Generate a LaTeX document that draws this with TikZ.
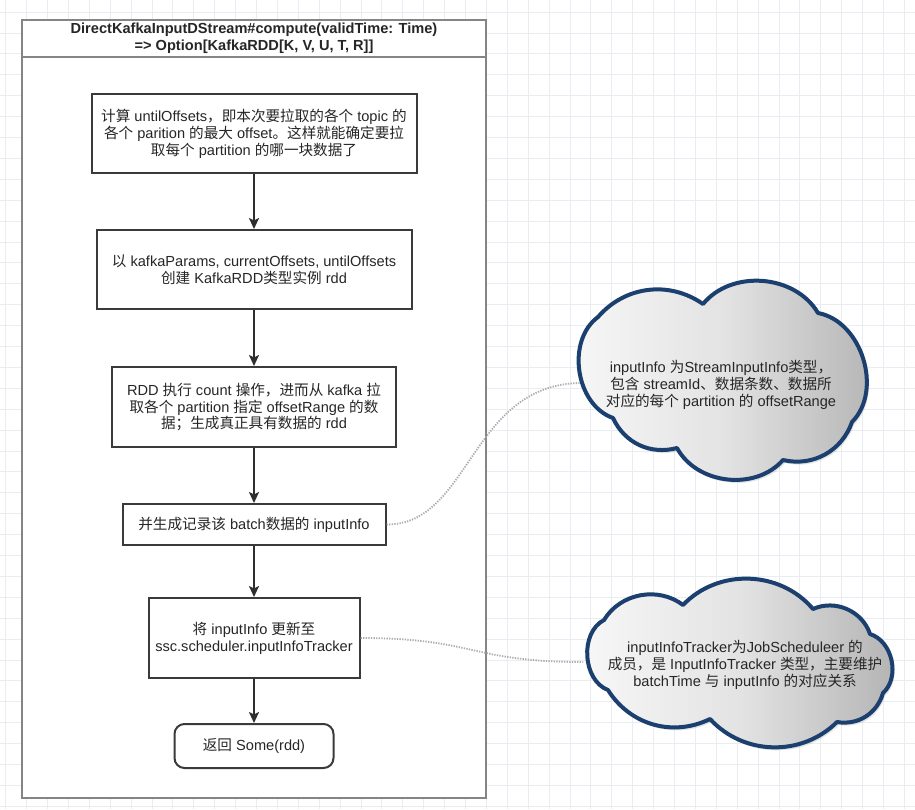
\documentclass[tikz,border=0pt]{standalone}
\usepackage{fontspec}
\setmainfont{Liberation Sans}
\newfontfamily\cjkfont{Noto Sans CJK SC}
\newfontfamily\latfont{Liberation Sans}
\usetikzlibrary{arrows.meta,shadows}
\XeTeXinterchartokenstate=1
\newXeTeXintercharclass\mycjkclass
\newcount\mycc
\mycc="4E00 \loop\XeTeXcharclass\mycc=\mycjkclass\advance\mycc 1 \ifnum\mycc<"9FB0 \repeat
\mycc="3000 \loop\XeTeXcharclass\mycc=\mycjkclass\advance\mycc 1 \ifnum\mycc<"3040 \repeat
\mycc="FF00 \loop\XeTeXcharclass\mycc=\mycjkclass\advance\mycc 1 \ifnum\mycc<"FFF0 \repeat
\XeTeXinterchartoks 0 \mycjkclass = {\cjkfont}
\XeTeXinterchartoks 4095 \mycjkclass = {\cjkfont}
\XeTeXinterchartoks \mycjkclass 0 = {\latfont}
\XeTeXinterchartoks \mycjkclass 4095 = {\latfont}
\definecolor{boxc}{HTML}{3A3A3A}
\definecolor{arrc}{HTML}{2E2E2E}
\definecolor{framec}{HTML}{858585}
\definecolor{cloudc}{HTML}{1B3F6E}
\definecolor{gridc}{HTML}{E9ECF1}
\newcommand\myfs{\fontsize{14.6}{16.9}\selectfont}
\begin{document}
\begin{tikzpicture}[x=1pt,y=-1pt,
  box/.style={draw=boxc, line width=2pt, fill=white, align=center, font=\myfs, inner sep=2pt, text=black!85},
  arr/.style={draw=arrc, line width=2.1pt, -{Stealth[length=11pt,width=10pt,inset=2.5pt]}},
  cloudpath/.style={draw=cloudc, line width=4pt, line join=round,
     left color=gray!6, right color=gray!60, middle color=gray!22,
     drop shadow={opacity=0.22, shadow xshift=2pt, shadow yshift=-3pt}},
  notetext/.style={align=center, font=\myfs, text=black!85},
  link/.style={draw=gray!65, line width=1.8pt, dash pattern=on 1.3pt off 1.3pt},
  gridline/.style={draw=gridc, line width=0.7pt}]
\useasboundingbox (0,0) rectangle (915,809);
\fill[white] (0,0) rectangle (915,809);
\foreach \i in {0,...,43} \draw[gridline] (5.6+\i*20.9,0) -- (5.6+\i*20.9,809);
\foreach \j in {0,...,38} \draw[gridline] (0,12+\j*20.9) -- (915,12+\j*20.9);

% container
\node[draw=framec, line width=1.8pt, fill=white, minimum width=464pt, minimum height=778pt, inner sep=0pt] (frame) at (254,409) {};
\node[draw=framec, line width=1.8pt, fill=white, minimum width=464pt, minimum height=37pt, align=center,
      font=\bfseries\fontsize{14.6}{16.8}\selectfont, inner sep=0pt, text=black!85] (hdr) at (254,38.5)
  {DirectKafkaInputDStream\#compute(validTime: Time)\\=> Option[KafkaRDD[K, V, U, T, R]]};

% steps
\node[box, minimum width=325pt, minimum height=79pt] (b1) at (254,133.5)
  {计算 untilOffsets，即本次要拉取的各个 topic 的\\各个 parition 的最大 offset。这样就能确定要拉\\取每个 partition 的哪一块数据了};
\node[box, minimum width=315pt, minimum height=79pt] (b2) at (254,269.5)
  {以 kafkaParams, currentOffsets, untilOffsets\\创建 KafkaRDD类型实例 rdd};
\node[box, minimum width=284pt, minimum height=80pt] (b3) at (254,407)
  {RDD 执行 count 操作，进而从 kafka 拉\\取各个 partition 指定 offsetRange 的数\\据；生成真正具有数据的 rdd};
\node[box, minimum width=263pt, minimum height=41pt] (b4) at (254,524.5)
  {并生成记录该 batch数据的 inputInfo};
\node[box, minimum width=211pt, minimum height=80pt] (b5) at (254,638)
  {将 inputInfo 更新至\\ssc.scheduler.inputInfoTracker};
\node[box, rounded corners=10pt, minimum width=159pt, minimum height=44pt] (b6) at (254,746)
  {返回 Some(rdd)};

\draw[arr] (b1.south) -- (b2.north);
\draw[arr] (b2.south) -- (b3.north);
\draw[arr] (b3.south) -- (b4.north);
\draw[arr] (b4.south) -- (b5.north);
\draw[arr] (b5.south) -- (b6.north);

% cloud 1
\path[cloudpath] (598,317) to[bend left=42] (703,304) to[bend left=55] (818,313)
  to[bend left=62] (852,422) to[bend left=42] (783,460) to[bend left=55] (677,448)
  to[bend left=40] (613,418) to[bend left=62] (598,317) -- cycle;
\node[notetext] (t1) at (721,385)
  {inputInfo 为StreamInputInfo类型，\\包含 streamId、数据条数、数据所\\对应的每个 partition 的 offsetRange};
\coordinate (c1w) at (580,383);

% cloud 2
\path[cloudpath] (604,620) to[bend left=48] (683,605) to[bend left=48] (813,609)
  to[bend left=48] (870,634) to[bend left=60] (883,693) to[bend left=42] (837,722)
  to[bend left=46] (710,719) to[bend left=42] (608,690) to[bend left=66] (604,620) -- cycle;
\node[notetext] (t2) at (745,665)
  {inputInfoTracker为JobScheduleer 的\\成员，是 InputInfoTracker 类型，主要维护\\batchTime 与 inputInfo 的对应关系};
\coordinate (c2w) at (583,662);

\draw[link] (b4.east) .. controls (470,525) and (470,385) .. (c1w);
\draw[link] (b5.east) .. controls (475,638) and (470,662) .. (c2w);
\end{tikzpicture}
\end{document}
